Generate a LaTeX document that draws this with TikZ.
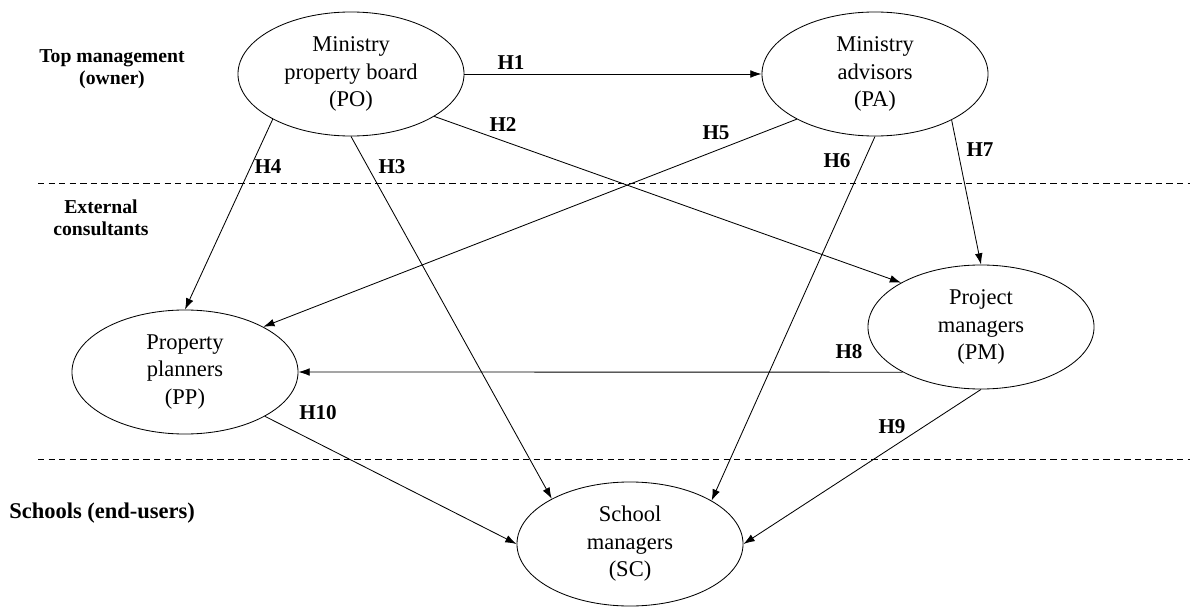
\documentclass[tikz,border=0pt]{standalone}
\usepackage{fontspec}
\setmainfont{Liberation Serif}
\usetikzlibrary{arrows.meta,shapes.geometric}

\begin{document}
\begin{tikzpicture}[
        x=0.025cm, y=-0.025cm,
        >={Latex[length=8pt,width=5.5pt]},
        actor/.style={draw, ellipse, semithick, minimum width=5.65cm, minimum height=3.1cm, inner sep=0pt, align=center, font=\fontsize{16}{19.5}\selectfont},
        level/.style={font=\fontsize{14}{16}\selectfont\bfseries, align=center, inner sep=0pt},
        hyp/.style={font=\fontsize{15}{17}\selectfont\bfseries, inner sep=0pt},
        divider/.style={semithick, dash pattern=on 4.5pt off 3pt}
    ]
        \useasboundingbox (0,0) rectangle (1190,611);
        % level separators
        \coordinate (d1w) at (38,183);
        \coordinate (d1e) at (1190,183);
        \coordinate (d2w) at (38,459);
        \coordinate (d2e) at (1190,459);
        \draw[divider] (d1w) -- (d1e);
        \draw[divider] (d2w) -- (d2e);
        \node[level] (lvltop) at (112,69) {Top management\\(owner)};
        \node[level] (lvlext) at (101,218) {External\\consultants};
        \node[level, anchor=west, font=\fontsize{16}{18}\selectfont\bfseries] (lvlschool) at (9,513) {Schools (end-users)};
        % actors
        \node[actor] (po) at (351,74) {Ministry\\property board\\(PO)};
        \node[actor] (pa) at (875,74) {Ministry\\advisors\\(PA)};
        \node[actor] (pm) at (981,327) {Project\\managers\\(PM)};
        \node[actor] (pp) at (185,372) {Property\\planners\\(PP)};
        \node[actor] (sc) at (630,544) {School\\managers\\(SC)};
        % hypotheses
        \draw[->,semithick] (po.east) -- (pa.west);
        \draw[->,semithick] (po.-27) -- (pm.151);
        \draw[->,semithick] (po.south) -- (sc.150);
        \draw[->,semithick] (po.210) -- (pp.north);
        \draw[->,semithick] (pa.210) -- (pp.30);
        \draw[->,semithick] (pa.south) -- (sc.28);
        \draw[->,semithick] (pa.-31) -- (pm.north);
        \draw[->,semithick] (pm.210) -- (pp.east);
        \draw[->,semithick] (pm.south) -- (sc.east);
        \draw[->,semithick] (pp.-29) -- (sc.west);
        \node[hyp] (h1) at (511,63) {H1};
        \node[hyp] (h2) at (503,125) {H2};
        \node[hyp] (h3) at (392,167) {H3};
        \node[hyp] (h4) at (268,167) {H4};
        \node[hyp] (h5) at (716,133) {H5};
        \node[hyp] (h6) at (837,161) {H6};
        \node[hyp] (h7) at (980,150) {H7};
        \node[hyp] (h8) at (849,352) {H8};
        \node[hyp] (h9) at (892,427) {H9};
        \node[hyp] (h10) at (318,413) {H10};
    \end{tikzpicture}
\end{document}
